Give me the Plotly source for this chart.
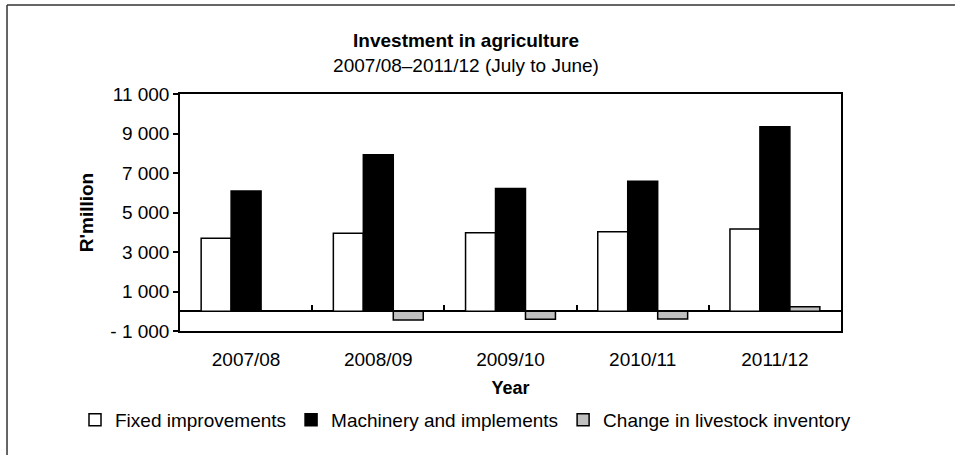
import plotly.graph_objects as go

years = ["2007/08", "2008/09", "2009/10", "2010/11", "2011/12"]
fixed_improvements = [3700, 3950, 3980, 4030, 4165]
machinery_implements = [6090, 7930, 6220, 6580, 9345]
livestock_change = [0, -440, -410, -390, 230]

y_tickvals = [-1000, 1000, 3000, 5000, 7000, 9000, 11000]
y_ticktext = ["- 1 000", "1 000", "3 000", "5 000", "7 000", "9 000", "11 000"]

FONT = "Liberation Sans, Arial, sans-serif"
FS = 19

fig = go.Figure()
fig.add_trace(go.Bar(name="Fixed improvements", x=years, y=fixed_improvements,
                     marker=dict(color="white", line=dict(color="black", width=1.5))))
fig.add_trace(go.Bar(name="Machinery and implements", x=years, y=machinery_implements,
                     marker=dict(color="black", line=dict(color="black", width=1.5))))
fig.add_trace(go.Bar(name="Change in livestock inventory", x=years, y=livestock_change,
                     marker=dict(color="#c0c0c0", line=dict(color="black", width=1.5))))
# helper trace for the category-boundary ticks on the zero line
fig.add_trace(go.Scatter(x=years, y=livestock_change, xaxis="x2", mode="none",
                         showlegend=False, hoverinfo="skip"))

fig.update_layout(
    width=955, height=455,
    margin=dict(l=180, r=114, t=94, b=124, autoexpand=False),
    paper_bgcolor="white", plot_bgcolor="white",
    font=dict(family=FONT, size=FS, color="black"),
    barmode="group", bargap=0.32, bargroupgap=0,
    title=dict(text="<b>Investment in agriculture</b><br>2007/08–2011/12 (July to June)",
               x=0.488, xref="container", xanchor="center",
               y=1 - 47 / 455, yref="container", yanchor="middle",
               font=dict(family=FONT, size=FS, color="black")),
    xaxis=dict(showline=True, linecolor="black", linewidth=1.5, mirror=True,
               ticks="", showgrid=False, zeroline=False,
               ticklabelstandoff=10,
               title=dict(text="<b>Year</b>", standoff=13, font=dict(size=18)),
               tickfont=dict(size=FS)),
    xaxis2=dict(overlaying="x", matches="x", anchor="free", position=1 / 12,
                side="bottom", ticks="inside", tickson="boundaries", ticklen=6,
                tickwidth=1.5, tickcolor="black", showticklabels=False,
                showline=False, showgrid=False, zeroline=False),
    yaxis=dict(range=[-1000, 11000], tickvals=y_tickvals, ticktext=y_ticktext,
               showline=True, linecolor="black", linewidth=1.5, mirror=True,
               ticks="outside", ticklen=5, tickwidth=1.5, tickcolor="black",
               showgrid=False, zeroline=True, zerolinecolor="black", zerolinewidth=1.5,
               title=dict(text="<b>R'million</b>", standoff=12, font=dict(size=19)),
               tickfont=dict(size=FS)),
    legend=dict(orientation="h", xref="paper", yref="paper",
                x=(75 - 180) / 661, xanchor="left", y=-89 / 237, yanchor="middle",
                font=dict(size=FS), traceorder="normal"),
    shapes=[
        dict(type="line", xref="paper", yref="paper", x0=-0.2617, y0=1.3755, x1=1.5, y1=1.3755,
             line=dict(color="#333333", width=1.5)),
        dict(type="line", xref="paper", yref="paper", x0=-0.2617, y0=1.3755, x1=-0.2617, y1=-1.0,
             line=dict(color="#333333", width=1.5)),
    ],
)

fig.write_html("out.html", config={"displayModeBar": False},
               post_script="document.body.style.margin='0px';")
